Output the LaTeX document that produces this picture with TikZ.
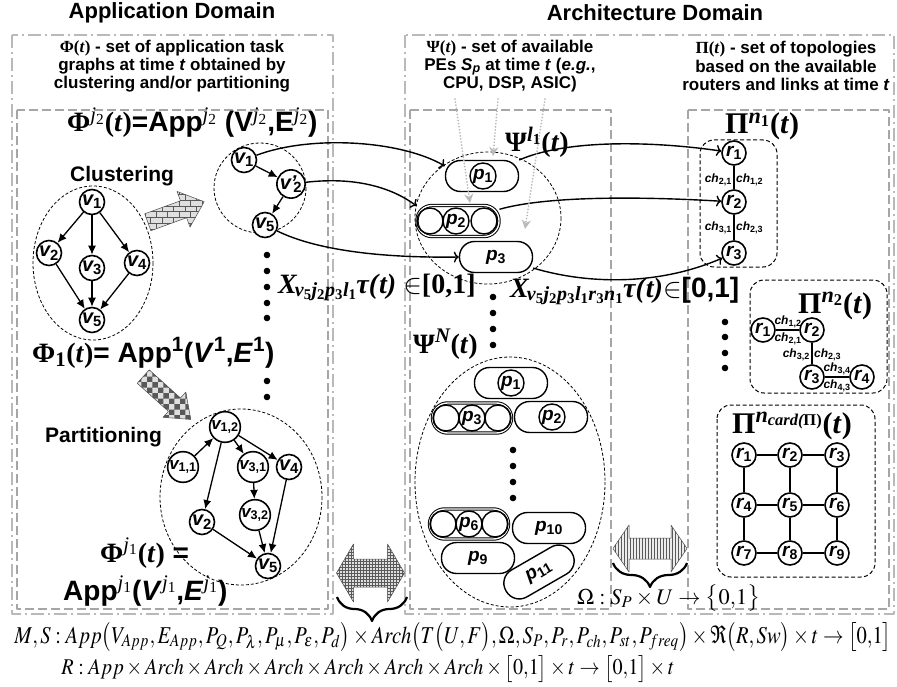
\documentclass[tikz,border=0pt]{standalone}
\usepackage{graphicx}
\usepackage{mathptmx}
\usepackage{fontspec}
\setmainfont{Liberation Serif}
\setsansfont{Liberation Sans}
\usetikzlibrary{arrows.meta,patterns,decorations.pathreplacing}
\newcommand\SFB{\sffamily\bfseries}
\newcommand\RMB{\rmfamily\bfseries}
\newcommand\supj[2]{\textsuperscript{\rmfamily\mdseries\itshape #1\textsubscript{\upshape #2}}}
\newcommand\supb[2]{\textsuperscript{\rmfamily\bfseries\itshape #1\textsubscript{\upshape #2}}}
\newcommand\fs[1]{\fontsize{#1}{#1}\selectfont}
\newcommand\lb[2]{#1\textsubscript{\upshape #2}}
\tikzset{
 ddbox/.style={draw=gray!55, line width=2.2pt, dash pattern=on 13pt off 4pt on 2pt off 4pt},
 dbox/.style={draw=gray!70, line width=1.6pt, dash pattern=on 9pt off 4pt},
 grp/.style={draw, line width=0.8pt, dash pattern=on 3pt off 2pt},
 topo/.style={draw, line width=1pt, dash pattern=on 4pt off 2.5pt, rounded corners=14pt},
 vn/.style={circle, draw, line width=1.6pt, fill=white, minimum size=25pt, inner sep=0pt, font=\SFB\itshape\fs{20}},
 rn/.style={vn, minimum size=24pt, font=\SFB\itshape\fs{19}},
 pill/.style={draw, line width=1.4pt, rounded corners=15pt, minimum width=73pt, minimum height=31pt, inner sep=0pt, font=\SFB\itshape\fs{19}, fill=white},
 dpill/.style={pill, double, line width=1pt, double distance=1.4pt},
 pc/.style={circle, draw, line width=1.4pt, minimum size=26pt, inner sep=0pt, font=\SFB\itshape\fs{19}},
 vedge/.style={-{Latex[length=9pt,width=8pt]}, line width=1.3pt},
 conn/.style={-{To[length=5pt,width=11pt]}, line width=1.4pt},
 tl/.style={line width=1.5pt},
 gdot/.style={draw=gray!55, line width=1.8pt, dash pattern=on 0.1pt off 3pt, line cap=round, -{Stealth[length=9pt,width=9pt,gray!55]}},
 chl/.style={font=\SFB\itshape\fs{12}, inner sep=1pt},
 txt/.style={font=\SFB\fontsize{17}{18.3}\selectfont, align=center},
 big/.style={anchor=base west, inner sep=0pt},
 brc/.style={line width=2.2pt, decorate, decoration={brace, amplitude=24pt}},
}
\begin{document}
\begin{tikzpicture}[x=1pt,y=-1pt, line join=round]
\useasboundingbox (0,0) rectangle (897,687);
\fill[white] (0,0) rectangle (897,687);
% titles
\node[font=\SFB\fs{22}] (tapp) at (172,13) {Application Domain};
\node[font=\SFB\fs{22}] (tarch) at (655,13) {Architecture Domain};
% boxes
\draw[ddbox] (12,35) rectangle (333,614);
\draw[dbox] (17,110) rectangle (328,609);
\draw[ddbox] (405,35) rectangle (894,614);
\draw[dbox] (410,110) rectangle (611,609);
\draw[dbox] (688,110) rectangle (889,609);
% text blocks
\node[txt] (phitxt) at (172,66) {{\RMB Φ(\textit{t})} - set of application task\\graphs at time \textit{t} obtained by\\clustering and/or partitioning};
\node[txt] (psitxt) at (510,66) {{\RMB Ψ(\textit{t})} - set of available\\PEs \textit{S}\textsubscript{\itshape p} at time \textit{t} (\textit{e.g.},\\CPU, DSP, ASIC)};
\node[txt] (pitxt) at (786,66) {{\RMB Π(\textit{t})} - set of topologies\\based on the available\\routers and links at time \textit{t}};
% big labels
\node[big, font=\SFB\fs{28}] (lphij2) at (67,132) {{\RMB Φ}\supj{j}{2}{\RMB(\textit{t})}=App\supj{j}{2} (V\supj{j}{2},E\supj{j}{2})};
\node[big, font=\SFB\fs{28}] (lphi1) at (32,362) {{\RMB Φ\textsubscript{1}(\textit{t})}= App\textsuperscript{1}(\textit{V}\textsuperscript{1},\textit{E}\textsuperscript{1})};
\node[big, font=\SFB\fs{28}] (lphij1) at (100,562) {{\RMB Φ}\supj{j}{1}{\RMB(\textit{t})} =};
\node[big, font=\SFB\fs{28}] (lappj1) at (63,600) {App\supj{j}{1}(\textit{V}\supj{j}{1},\textit{E}\supj{j}{1})};
\node[big, font=\SFB\fs{21}] (lclu) at (70,182) {Clustering};
\node[big, font=\SFB\fs{21}] (lpart) at (45,442) {Partitioning};
\node[big, font=\RMB\fs{28}] (lpsil1) at (505,152) {Ψ\supb{l}{1}(\textit{t})};
\node[big, font=\RMB\fs{28}] (lpsin) at (413,353) {Ψ\textsuperscript{\itshape N}(\textit{t})};
\node[big, font=\RMB\fs{30}] (lpin1) at (725,134) {Π\supb{n}{1}(\textit{t})};
\node[big, font=\RMB\fs{30}] (lpin2) at (798,313) {Π\supb{n}{2}(\textit{t})};
\node[big, font=\RMB\fs{30}] (lpinc) at (732,433) {Π\textsuperscript{\itshape n\textsubscript{card(\upshape Π)}}(\textit{t})};
% textured arrows
\begin{scope}[shift={(176,212)}, rotate=20]
\fill[gray!25] (-30,-9) -- (8,-9) -- (8,-19) -- (30,0) -- (8,19) -- (8,9) -- (-30,9) -- cycle;
\draw[gray!60!black, line width=0.5pt, pattern=bricks, pattern color=gray!70!black] (-30,-9) -- (8,-9) -- (8,-19) -- (30,0) -- (8,19) -- (8,9) -- (-30,9) -- cycle;
\end{scope}
\begin{scope}[shift={(167,398)}, rotate=-42]
\fill[gray!25] (-32,-9) -- (10,-9) -- (10,-17) -- (32,0) -- (10,17) -- (10,9) -- (-32,9) -- cycle;
\draw[gray!60!black, line width=0.5pt, pattern=checkerboard, pattern color=gray!70!black] (-32,-9) -- (10,-9) -- (10,-17) -- (32,0) -- (10,17) -- (10,9) -- (-32,9) -- cycle;
\end{scope}
\begin{scope}[shift={(370.5,573)}]
\fill[gray!25] (-34,0) -- (-17,-29) -- (-17,-14) -- (17,-14) -- (17,-29) -- (34,0) -- (17,29) -- (17,14) -- (-17,14) -- (-17,29) -- cycle;
\draw[gray!60!black, line width=0.5pt, pattern=grid, pattern color=gray!70!black] (-34,0) -- (-17,-29) -- (-17,-14) -- (17,-14) -- (17,-29) -- (34,0) -- (17,29) -- (17,14) -- (-17,14) -- (-17,29) -- cycle;
\end{scope}
\begin{scope}[shift={(650,548.5)}]
\fill[gray!15] (-37,0) -- (-21,-23.5) -- (-21,-10.5) -- (21,-10.5) -- (21,-23.5) -- (37,0) -- (21,23.5) -- (21,10.5) -- (-21,10.5) -- (-21,23.5) -- cycle;
\draw[gray!60!black, line width=0.5pt, pattern=vertical lines, pattern color=gray!70!black] (-37,0) -- (-21,-23.5) -- (-21,-10.5) -- (21,-10.5) -- (21,-23.5) -- (37,0) -- (21,23.5) -- (21,10.5) -- (-21,10.5) -- (-21,23.5) -- cycle;
\end{scope}
\coordinate (b1a) at (407,597); \coordinate (b1b) at (337,597);
\coordinate (b2a) at (687,563); \coordinate (b2b) at (613,563);
\draw[brc] (b1a) -- (b1b);
\draw[brc] (b2a) -- (b2b);
% group ellipses
\draw[grp] (93,263) ellipse [x radius=60, y radius=77];
\draw[grp] (260,188) ellipse [x radius=46, y radius=45];
\draw[grp] (241,497) ellipse [x radius=81, y radius=88];
\draw[grp] (488,218) ellipse [x radius=73, y radius=66];
\draw[grp] (510,482) ellipse [x radius=95, y radius=125];
% topology boxes
\draw[topo] (700,140) rectangle (777,267);
\draw[topo] (750,280) rectangle (887,393);
\draw[topo] (717,405) rectangle (875,577);
% clustering graph
\node[vn] (v1) at (92,202) {\lb{v}{1}};
\node[vn] (v2) at (49,253) {\lb{v}{2}};
\node[vn] (v3) at (92,268) {\lb{v}{3}};
\node[vn] (v4) at (137,263) {\lb{v}{4}};
\node[vn] (v5) at (92,320) {\lb{v}{5}};
\draw[vedge] (v1) -- (v2);
\draw[vedge] (v1) -- (v3);
\draw[vedge] (v1) -- (v4);
\draw[vedge] (v2) -- (v5);
\draw[vedge] (v3) -- (v5);
\draw[vedge] (v4) -- (v5);
% clustered graph
\node[vn] (v1b) at (244,160) {\lb{v}{1}};
\node[vn] (v2b) at (291,184) {v’\kern-3pt\textsubscript{\upshape 2}};
\node[vn] (v5b) at (265,225) {\lb{v}{5}};
\draw[vedge] (v1b) -- (v2b);
\draw[vedge] (v2b) -- (v5b);
% partitioned graph
\node[vn, font=\SFB\itshape\fs{17}] (v12) at (225,427) {\lb{v}{1,2}};
\node[vn, font=\SFB\itshape\fs{17}] (v11) at (183,467) {\lb{v}{1,1}};
\node[vn, font=\SFB\itshape\fs{17}] (v31) at (253,467) {\lb{v}{3,1}};
\node[vn] (v4p) at (289,467) {\lb{v}{4}};
\node[vn] (v2p) at (202,522) {\lb{v}{2}};
\node[vn, font=\SFB\itshape\fs{17}] (v32) at (255,515) {\lb{v}{3,2}};
\node[vn] (v5p) at (268,566) {\lb{v}{5}};
\draw[vedge] (v11) -- (v12);
\draw[vedge] (v12) -- (v2p);
\draw[vedge] (v12) -- (v31);
\draw[vedge] (v12) -- (v4p);
\draw[vedge] (v31) -- (v32);
\draw[vedge] (v32) -- (v5p);
\draw[vedge] (v2p) -- (v5p);
\draw[vedge] (v4p) -- (v5p);
% dots
\foreach \y in {255,271,287,303,318,381,397} \fill (267,\y) circle (3.3pt);
\foreach \y in {297,313,329,345} \fill (493,\y) circle (3.3pt);
\foreach \y in {450,466,482,498} \fill (513,\y) circle (3.3pt);
\foreach \y in {322,337,353,368} \fill (725,\y) circle (3.3pt);
% PEs group l1
\node[pill] (p1) at (482,176) {};
\node[pc] (p1c) at (483,176) {\lb{p}{1}};
\node[dpill, minimum width=82pt] (p2r) at (458,221) {};
\node[pc] (p2l) at (430,221) {};
\node[pc] (p2c) at (456,221) {\lb{p}{2}};
\node[pc] (p2rr) at (484,221) {};
\node[pill] (p3) at (496,257) {\lb{p}{3}};
% PEs group N
\node[pill] (q1) at (511,383) {};
\node[pc] (q1c) at (511,383) {\lb{p}{1}};
\node[dpill, minimum width=79pt, minimum height=30pt] (q3r) at (472,418) {};
\node[pc] (q3l) at (446,418) {};
\node[pc] (q3c) at (472,418) {\lb{p}{3}};
\node[pc] (q3rr) at (498,418) {};
\node[pill] (q2) at (551,417) {};
\node[pc] (q2c) at (552,417) {\lb{p}{2}};
\node[dpill, minimum width=79pt, minimum height=30pt] (q6r) at (469,524) {};
\node[pc] (q6l) at (443,524) {};
\node[pc] (q6c) at (469,524) {\lb{p}{6}};
\node[pc] (q6rr) at (495,524) {};
\node[pill] (q10) at (549,528) {\lb{p}{10}};
\node[pill] (q9) at (478,558) {\lb{p}{9}};
\node[pill, rotate=30, minimum width=76pt] (q11) at (539,572) {\lb{p}{11}};
% topology n1
\node[rn] (r1a) at (734,153) {\lb{r}{1}};
\node[rn] (r2a) at (734,202) {\lb{r}{2}};
\node[rn] (r3a) at (734,253) {\lb{r}{3}};
\draw[tl] (r1a) -- (r2a);
\draw[tl] (r2a) -- (r3a);
\node[chl, anchor=east] (c21a) at (733,180) {\lb{ch}{2,1}};
\node[chl, anchor=west] (c12a) at (735,180) {\lb{ch}{1,2}};
\node[chl, anchor=east] (c31a) at (733,228) {\lb{ch}{3,1}};
\node[chl, anchor=west] (c23a) at (735,228) {\lb{ch}{2,3}};
% topology n2
\node[rn] (r1b) at (763,330) {\lb{r}{1}};
\node[rn] (r2b) at (812,330) {\lb{r}{2}};
\node[rn] (r3b) at (812,377) {\lb{r}{3}};
\node[rn] (r4b) at (862,377) {\lb{r}{4}};
\draw[tl] (r1b) -- (r2b);
\draw[tl] (r2b) -- (r3b);
\draw[tl] (r3b) -- (r4b);
\node[chl] (c12b) at (788,322) {\lb{ch}{1,2}};
\node[chl] (c21b) at (788,339) {\lb{ch}{2,1}};
\node[chl, anchor=east] (c32b) at (811,355) {\lb{ch}{3,2}};
\node[chl, anchor=west] (c23b) at (813,355) {\lb{ch}{2,3}};
\node[chl] (c34b) at (837,369) {\lb{ch}{3,4}};
\node[chl] (c43b) at (837,386) {\lb{ch}{4,3}};
% topology grid
\foreach \n/\x/\y in {1/744/455,2/790/455,3/837/455,4/744/505,5/790/505,6/837/505,7/744/553,8/790/553,9/837/553}
  \node[rn] (g\n) at (\x,\y) {\lb{r}{\n}};
\foreach \a/\b in {1/2,2/3,4/5,5/6,7/8,8/9,1/4,4/7,2/5,5/8,3/6,6/9}
  \draw[tl] (g\a) -- (g\b);
% connectors
\draw[conn] (v1b) .. controls (310,135) and (400,140) .. (p1.165);
\draw[conn] (v2b) .. controls (360,176) and (395,190) .. (p2r.160);
\draw[conn] (v5b) .. controls (320,252) and (390,258) .. (p3.west);
\draw[conn] (p1) .. controls (570,138) and (660,142) .. (r1a);
\draw[conn] (p2r) .. controls (550,195) and (650,197) .. (r2a);
\draw[conn] (p3) .. controls (590,285) and (660,285) .. (r3a);
% gray dotted arrows
\coordinate (d1s) at (455,99); \coordinate (d1e) at (470,203);
\coordinate (d2s) at (498,99); \coordinate (d2e) at (493,156);
\coordinate (d3s) at (545,99); \coordinate (d3e) at (525,229);
\draw[gdot] (d1s) -- (d1e);
\draw[gdot] (d2s) -- (d2e);
\draw[gdot] (d3s) -- (d3e);
% X labels
\node[big] (x1) at (278,293) {\RMB\itshape\fs{28}X\kern-2pt\raisebox{-3pt}{\fs{20}v\textsubscript{\upshape 5}j\textsubscript{\upshape 2}p\textsubscript{\upshape 3}l\textsubscript{\upshape 1}}τ(\kern1pt t) \upshape$\in$[0,1]};
\node[big] (x2) at (510,297) {\RMB\itshape\fs{28}X\kern-2pt\raisebox{-3pt}{\fs{20}v\textsubscript{\upshape 5}j\textsubscript{\upshape 2}p\textsubscript{\upshape 3}l\textsubscript{\upshape 1}r\textsubscript{\upshape 3}n\textsubscript{\upshape 1}}τ(\kern1pt t)\upshape$\in${\SFB[0,1]}};
% formulas
\node[big] (om) at (577,604) {\resizebox{183pt}{!}{$\Omega:S_P\times U\rightarrow\bigl\{0{,}1\bigr\}$}};
\node (f1) at (453,637) {\resizebox*{877pt}{29pt}{$M,S:App\bigl(V_{App},E_{App},P_Q,P_\lambda,P_\mu,P_\varepsilon,P_d\bigr)\times Arch\bigl(T\bigl(U,F\bigr),\Omega,S_P,P_r,P_{ch},P_{st},P_{freq}\bigr)\times\Re\bigl(R,Sw\bigr)\times t\rightarrow\bigl[0{,}1\bigr]$}};
\node (f2) at (368,669) {\resizebox*{613pt}{27pt}{$R:App\times Arch\times Arch\times Arch\times Arch\times Arch\times Arch\times\bigl[0{,}1\bigr]\times t\rightarrow\bigl[0{,}1\bigr]\times t$}};
\end{tikzpicture}
\end{document}
